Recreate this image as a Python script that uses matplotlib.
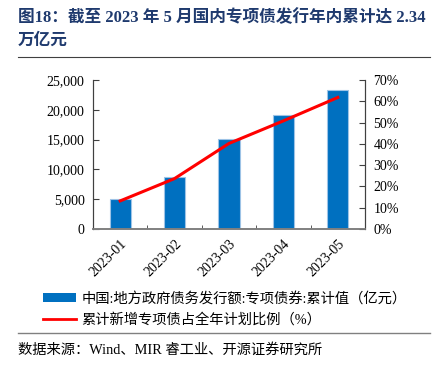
import numpy as np
import matplotlib
matplotlib.use("Agg")
import matplotlib.pyplot as plt
from matplotlib.lines import Line2D
from matplotlib.patches import Patch

plt.rcParams['font.family'] = ['Liberation Serif', 'Noto Sans CJK SC']
plt.rcParams['axes.unicode_minus'] = False

months = ['2023-01', '2023-02', '2023-03', '2023-04', '2023-05']
issued = [4980, 8780, 15050, 19130, 23400]          # 亿元
plan_ratio = [13.2, 23.7, 40.2, 50.8, 61.8]          # %

yticks_left = [0, 5000, 10000, 15000, 20000, 25000]
yticks_right = [0, 10, 20, 30, 40, 50, 60, 70]

blue = '#0070C0'
red = '#FF0000'
mixed = ['Liberation Serif', 'Noto Sans CJK SC']

fig = plt.figure(figsize=(4.38, 3.65), dpi=100)
ax = fig.add_axes([0.2123, 0.3726, 0.6210, 0.4082])
ax2 = ax.twinx()

x = np.arange(len(months))
ax.bar(x, issued, width=0.39, color=blue, edgecolor='#9DC3E6', linewidth=0.8, zorder=2)
ax2.plot(x, plan_ratio, color=red, linewidth=2.2, zorder=3)

ax.set_xlim(-0.5, len(months) - 0.5)
ax.set_ylim(0, 25000)
ax2.set_ylim(0, 70)

ax.set_yticks(yticks_left)
ax.set_yticklabels([f'{v:,}' for v in yticks_left], fontsize=10)
ax2.set_yticks(yticks_right)
ax2.set_yticklabels([f'{v}%' for v in yticks_right], fontsize=10)

ax.set_xticks(x)
ax.set_xticklabels(months, rotation=45, ha='right', rotation_mode='anchor', fontsize=10)
ax.tick_params(axis='x', length=0, pad=6)
ax.set_xticks(np.arange(0.5, len(months) - 0.5), minor=True)
ax.tick_params(axis='x', which='minor', direction='in', length=3, color='#404040')
ax.tick_params(axis='y', direction='in', length=4, color='#404040', pad=6)
ax2.tick_params(axis='y', direction='in', length=4, color='#404040', pad=6)

for a in (ax, ax2):
    a.spines['top'].set_visible(False)
    a.spines['left'].set_color('#404040')
    a.spines['right'].set_color('#404040')
    a.spines['bottom'].set_color('#808080')
    a.spines['bottom'].set_linewidth(1.2)

# title
fig.text(0.041, 0.952, '图18：截至 2023 年 5 月国内专项债发行年内累计达 2.34',
         fontsize=12, fontweight='bold', color='#1F3A6E', family=mixed, va='center')
fig.text(0.041, 0.888, '万亿元', fontsize=12, fontweight='bold',
         color='#1F3A6E', family=mixed, va='center')
fig.add_artist(Line2D([0.041, 0.982], [0.845, 0.845], color='#404040', linewidth=0.8))

# legend
handles = [Patch(facecolor=blue, edgecolor='none'),
           Line2D([], [], color=red, linewidth=2)]
labels = ['中国:地方政府债务发行额:专项债券:累计值（亿元）', '累计新增专项债占全年计划比例（%）']
fig.legend(handles, labels, loc='center left', bbox_to_anchor=(0.068, 0.153),
           frameon=False, prop={'family': mixed, 'size': 10.3}, handlelength=2.3,
           handleheight=0.6, labelspacing=0.5, handletextpad=0.4)

fig.add_artist(Line2D([0.041, 0.982], [0.088, 0.088], color='#808080', linewidth=1.0))
fig.text(0.041, 0.04, '数据来源：Wind、MIR 睿工业、开源证券研究所', fontsize=10.3,
         family=mixed, va='center')

fig.savefig('out.png', dpi=100)
